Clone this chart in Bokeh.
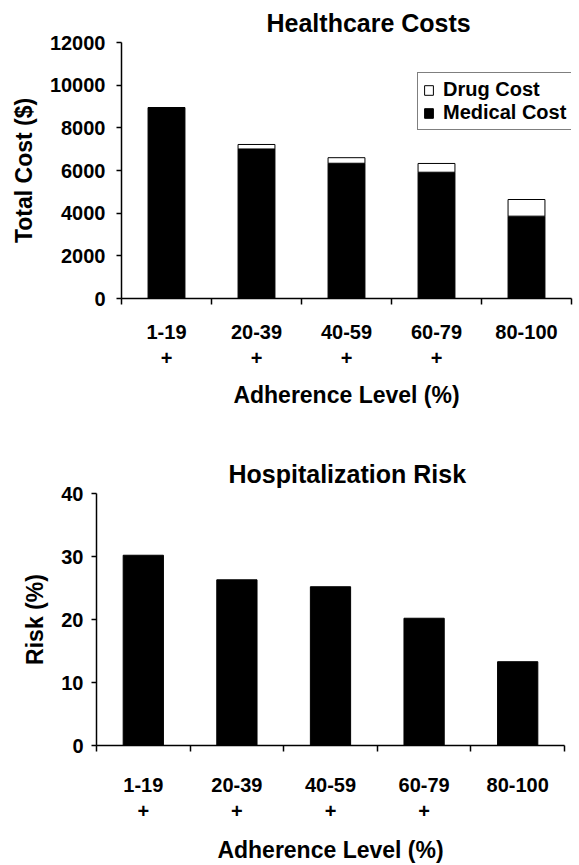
from bokeh.plotting import figure
from bokeh.models import (Range1d, FixedTicker, SingleIntervalTicker, ColumnDataSource,
                          Legend, LegendItem)
from bokeh.embed import file_html
from bokeh.resources import INLINE

# ---- data ----
adherence = ["1-19", "20-39", "40-59", "60-79", "80-100"]
significance = ["+", "+", "+", "+", ""]
medical_cost = [8950, 7010, 6340, 5920, 3860]
drug_cost = [0, 210, 260, 410, 780]
hosp_risk = [30.2, 26.3, 25.2, 20.2, 13.3]

FONT = "Liberation Sans"
centers = [i + 0.5 for i in range(len(adherence))]
bounds = [float(i) for i in range(len(adherence) + 1)]
overrides = {c: (f"{a}\n{s}" if s else a) for c, a, s in zip(centers, adherence, significance)}


def style(p, xlabel, ylabel, yint):
    p.xgrid.visible = False
    p.ygrid.visible = False
    p.outline_line_color = None
    xa = p.xaxis[0]
    xa.ticker = FixedTicker(ticks=centers, minor_ticks=bounds)
    xa.major_label_overrides = overrides
    xa.major_tick_out = 0
    xa.major_tick_in = 0
    xa.minor_tick_line_color = "black"
    xa.minor_tick_line_width = 1.5
    xa.minor_tick_out = 6
    xa.minor_tick_in = 0
    xa.axis_label = xlabel
    ya = p.yaxis[0]
    ya.ticker = SingleIntervalTicker(interval=yint)
    ya.minor_tick_line_color = None
    ya.major_tick_out = 5
    ya.major_tick_in = 0
    ya.axis_label = ylabel
    for ax in (xa, ya):
        ax.axis_line_color = "black"
        ax.axis_line_width = 1.5
        ax.major_tick_line_color = "black" if ax is ya else None
        ax.major_tick_line_width = 1.5
        ax.major_label_text_font = FONT
        ax.major_label_text_font_style = "bold"
        ax.major_label_text_font_size = "20px"
        ax.major_label_text_color = "black"
        ax.axis_label_text_font = FONT
        ax.axis_label_text_font_style = "bold"
        ax.axis_label_text_font_size = "23px"
        ax.axis_label_text_color = "black"
    p.title.text_font = FONT
    p.title.text_font_style = "bold"
    p.title.text_font_size = "25px"
    p.title.text_color = "black"
    p.title.align = "left"


# ---- top chart: healthcare costs ----
src = ColumnDataSource(dict(x=centers, medical=medical_cost, drug=drug_cost))
p1 = figure(width=579, height=420, x_range=Range1d(0, 5), y_range=Range1d(0, 12000),
            output_backend="svg", toolbar_location=None,
            min_border_left=121, min_border_right=8, min_border_top=42, min_border_bottom=122,
            title="Healthcare Costs")
rs = p1.vbar_stack(["medical", "drug"], x="x", width=0.41, source=src,
                   fill_color=["black", "white"], line_color="black", line_width=1)
style(p1, "Adherence Level (%)", "Total Cost ($)", 2000)
p1.title.offset = 145
p1.title.standoff = 12
p1.xaxis[0].major_label_standoff = 16
p1.xaxis[0].axis_label_standoff = 10
p1.yaxis[0].major_label_standoff = 11
p1.yaxis[0].axis_label_standoff = 10

legend = Legend(items=[LegendItem(label="Drug Cost", renderers=[rs[1]]),
                       LegendItem(label="Medical Cost", renderers=[rs[0]])],
                location=(296, 168), border_line_color="black", border_line_width=1.5,
                padding=5, spacing=0, glyph_width=11, glyph_height=12, label_standoff=9,
                label_text_font=FONT, label_text_font_style="bold", label_text_font_size="20px",
                label_text_color="black", label_height=20, margin=0, background_fill_alpha=1)
p1.add_layout(legend)

# ---- bottom chart: hospitalization risk ----
src2 = ColumnDataSource(dict(x=centers, risk=hosp_risk))
p2 = figure(width=579, height=445, x_range=Range1d(0, 5), y_range=Range1d(0, 40),
            output_backend="svg", toolbar_location=None,
            min_border_left=96, min_border_right=15, min_border_top=73, min_border_bottom=111,
            title="Hospitalization Risk")
p2.vbar(x="x", top="risk", width=0.43, source=src2, fill_color="black", line_color="black")
style(p2, "Adherence Level (%)", "Risk (%)", 10)
p2.title.offset = 132
p2.title.standoff = 12
p2.xaxis[0].major_label_standoff = 22
p2.xaxis[0].axis_label_standoff = 12
p2.yaxis[0].major_label_standoff = 8
p2.yaxis[0].axis_label_standoff = 10

open("out.html", "w").write(file_html([p1, p2], INLINE))
